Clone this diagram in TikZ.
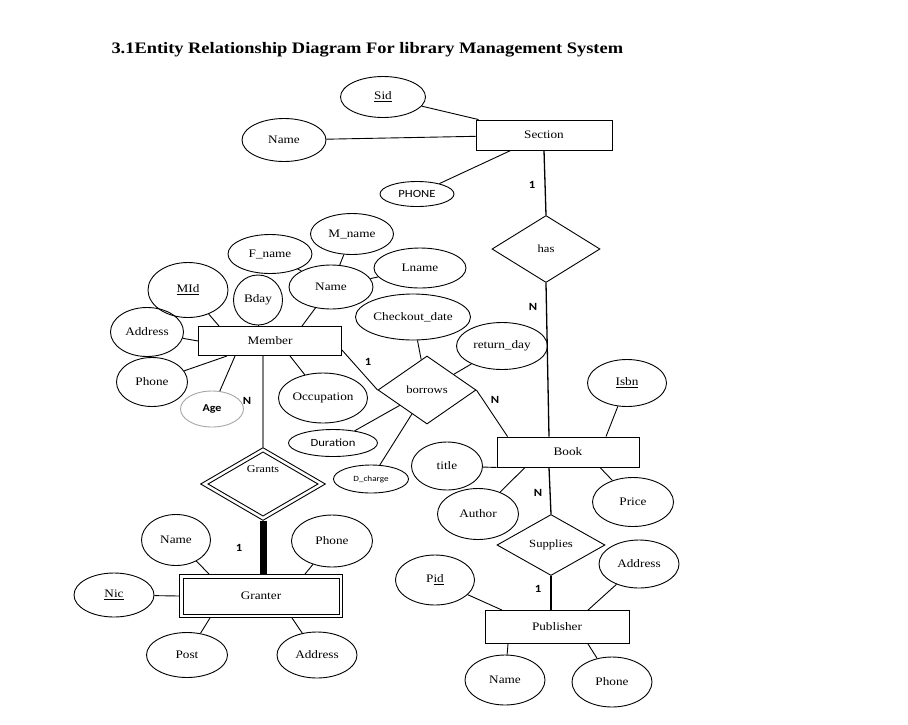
\documentclass[tikz,border=0pt]{standalone}
\usepackage{fontspec}
\setmainfont{Liberation Serif}[FakeStretch=1.15]
\newfontfamily\labfont{Carlito}[FakeStretch=1.15]
\usetikzlibrary{shapes,positioning,calc}

\begin{document}
\begin{tikzpicture}[
    x=1pt, y=-1pt,
    wh/.style 2 args={minimum width=#1, minimum height=#2},
    ent/.style={draw, line width=0.9pt, font=\fontsize{11.5}{13}\selectfont},
    attr/.style={draw, ellipse, line width=0.9pt, inner sep=1pt, font=\fontsize{11.5}{13}\selectfont},
    sattr/.style={attr, font=\labfont\fontsize{11}{13}\selectfont},
    rel/.style={draw, diamond, line width=0.9pt, inner sep=0pt, font=\fontsize{11}{13}\selectfont},
    card/.style={font=\labfont\bfseries\fontsize{11}{13}\selectfont},
    lnk/.style={line width=0.9pt}
]
    \path[fill=white] (0,0) rectangle (908,724);

    % Heading
    \node[font=\fontsize{16}{19}\selectfont\bfseries, anchor=west] (heading) at (108,50)
        {3.1Entity Relationship Diagram For library Management System};

    % Section and its attributes
    \node[ent, wh={136}{30}] (sec) at (544,135) {Section};
    \node[attr, wh={85}{41}] (sid) at (383,97) {\underline{Sid}};
    \node[attr, wh={84}{43}] (secname) at (284,140) {Name};
    \node[sattr, wh={74}{25}] (secphone) at (417,194) {PHONE};
    \draw[lnk] (sid) -- (sec);
    \draw[lnk] (secname) -- (sec);
    \draw[lnk] (secphone) -- (sec);

    % has
    \node[rel, wh={108}{67}] (has) at (546,249) {has};
    \draw[line width=1.3pt] (sec.south) -- (has.north);
    \node[card] (c1) at (532,185) {1};

    % Member and its attributes
    \node[ent, wh={143}{29}] (member) at (270,341) {Member};
    \node[attr, wh={80}{55}] (mid) at (188,290) {\underline{MId}};
    \node[attr, wh={49}{50}] (bday) at (258,300) {Bday};
    \node[attr, wh={84}{39}] (fname) at (270,254) {F\_name};
    \node[attr, wh={83}{41}] (midname) at (352,234) {M\_name};
    \node[attr, wh={92}{40}] (lname) at (420,268) {Lname};
    \node[attr, wh={84}{44}] (fullname) at (331,287) {Name};
    \node[attr, wh={73}{49}] (maddr) at (147,332) {Address};
    \node[attr, wh={71}{49}] (mphone) at (152,382) {Phone};
    \node[attr, draw=gray!70, wh={63}{36}, font=\labfont\bfseries\fontsize{10.5}{12}\selectfont] (age) at (212,409) {Age};
    \node[attr, wh={84}{50}] (occup) at (323,398) {Occupation};
    \draw[lnk] (mid) -- ([xshift=21]member.north west);
    \draw[lnk] (bday.south) -- (bday.south |- member.north);
    \draw[lnk] (fullname) -- ([xshift=32]member.north);
    \draw[lnk] (fname) -- (fullname);
    \draw[lnk] (midname) -- (fullname);
    \draw[lnk] (lname) -- (fullname);
    \draw[lnk] (maddr) -- (member.west);
    \draw[lnk] (mphone) -- ([xshift=29]member.south west);
    \draw[lnk] (age) -- ([xshift=37]member.south west);
    \draw[lnk] (occup) -- ([xshift=20]member.south);

    % borrows
    \node[rel, wh={98}{68}] (borrows) at (427,390) {borrows};
    \node[attr, wh={103}{46}] (checkout) at (413,317) {Checkout\_date};
    \node[attr, wh={91}{47}] (retday) at (502,346) {return\_day};
    \node[sattr, wh={89}{27}] (duration) at (333,443) {Duration};
    \node[sattr, wh={75}{28}, font=\labfont\fontsize{8}{10}\selectfont] (dcharge) at (371,479) {D\_charge};
    \draw[lnk] ([yshift=-9]member.east) -- (borrows.west);
    \draw[lnk] (checkout) -- (borrows);
    \draw[lnk] (retday) -- (borrows);
    \draw[lnk] (duration) -- (borrows);
    \draw[lnk] (dcharge) -- (borrows);
    \node[card] (c2) at (368,362) {1};

    % Book and its attributes
    \node[ent, wh={142}{30}] (book) at (568,452) {Book};
    \node[attr, wh={79}{47}] (isbn) at (627,383) {\underline{Isbn}};
    \node[attr, wh={71}{48}] (title) at (447,466) {title};
    \node[attr, wh={81}{51}] (author) at (478,514) {Author};
    \node[attr, wh={81}{49}] (price) at (633,502) {Price};
    \draw[line width=1.3pt] (has.south) -- ([xshift=-19]book.north);
    \draw[lnk] (borrows.east) -- ([xshift=11]book.north west);
    \draw[lnk] (title) -- (book.south west);
    \draw[lnk] (isbn) -- ([xshift=38]book.north);
    \draw[lnk] (author) -- ([xshift=-43]book.south);
    \draw[lnk] (price) -- ([xshift=32]book.south);
    \node[card] (c3) at (533,307) {N};
    \node[card] (c4) at (495,400) {N};

    % Supplies and Publisher
    \node[rel, wh={108}{61}] (supplies) at (551,545) {Supplies};
    \node[ent, wh={144}{33}] (publisher) at (557,627) {Publisher};
    \node[attr, wh={79}{50}] (pid) at (435,580) {P\underline{id}};
    \node[attr, wh={80}{48}] (paddr) at (639,564) {Address};
    \node[attr, wh={80}{50}] (pname) at (505,680) {Name};
    \node[attr, wh={80}{50}] (pphone) at (612,682) {Phone};
    \draw[line width=1.3pt] ([xshift=-19]book.south) -- (supplies.north);
    \draw[line width=1.3pt] (supplies.south) -- (supplies.south |- publisher.north);
    \draw[lnk] (pid) -- ([xshift=-55]publisher.north);
    \draw[lnk] (paddr) -- ([xshift=31]publisher.north);
    \draw[lnk] (pname) -- ([xshift=-49]publisher.south);
    \draw[lnk] (pphone) -- ([xshift=31]publisher.south);
    \node[card] (c5) at (538,493) {N};
    \node[card] (c6) at (538,589) {1};

    % Grants and Granter (weak)
    \node[rel, wh={125}{73}, label={[anchor=north, yshift=-15pt, font=\fontsize{10.5}{12}\selectfont]north:Grants}] (grants) at (263,484) {};
    \draw[lnk] ($(grants.north)+(0,5)$) -- ($(grants.east)+(-8,0)$) -- ($(grants.south)+(0,-5)$) -- ($(grants.west)+(8,0)$) -- cycle;
    \node[ent, wh={163}{43}] (granter) at (261,596) {Granter};
    \draw[lnk] ($(granter.north west)+(4,4)$) rectangle ($(granter.south east)+(-4,-4)$);
    \node[attr, wh={69}{51}] (gname) at (176,540) {Name};
    \node[attr, wh={81}{52}] (gphone) at (332,541) {Phone};
    \node[attr, wh={80}{44}] (nic) at (114,595) {\underline{Nic}};
    \node[attr, wh={81}{45}] (post) at (187,655) {Post};
    \node[attr, wh={80}{46}] (gaddr) at (317,655) {Address};
    \draw[gray, line width=1.3pt] (grants.north |- member.south) -- (grants.north);
    \draw[line width=7pt] (grants.south) -- (grants.south |- granter.north);
    \draw[lnk] (gname) -- ([xshift=-52]granter.north);
    \draw[lnk] (gphone) -- ([xshift=44]granter.north);
    \draw[lnk] (nic) -- (granter.west);
    \draw[lnk] (post) -- ([xshift=-51]granter.south);
    \draw[lnk] (gaddr) -- ([xshift=31]granter.south);
    \node[card] (c7) at (247,401) {N};
    \node[card] (c8) at (239,548) {1};

    \useasboundingbox (0,0) rectangle (908,724);
\end{tikzpicture}
\end{document}
